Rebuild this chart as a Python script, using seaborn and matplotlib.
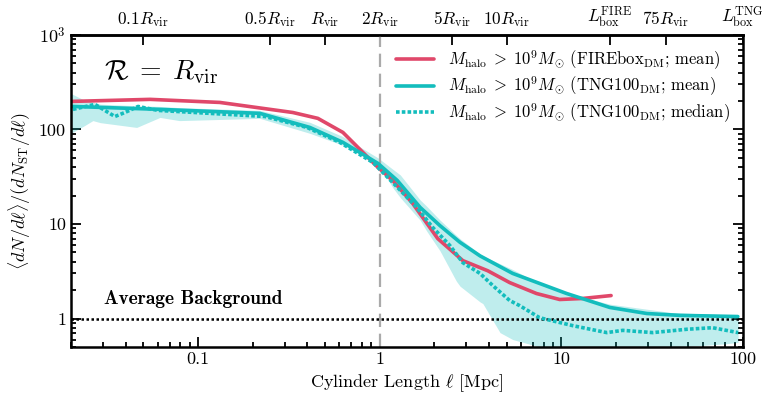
import numpy as np
import pandas as pd
import seaborn as sns
import matplotlib.pyplot as plt
import matplotlib.ticker as mticker

# Values (cylinder length in Mpc, ratio to background)
fire_len = [0.0205, 0.0545, 0.132, 0.333, 0.457, 0.628, 0.98, 1.18, 1.52, 2.09, 2.87,
            3.94, 5.2, 7.3, 9.8, 13.1, 18.8]
fire_mean = [198, 208, 193, 151, 131, 93, 39.6, 28.9, 16.5, 7.0, 4.1,
             3.2, 2.4, 1.84, 1.59, 1.63, 1.75]

tng_len = [0.0205, 0.0618, 0.219, 0.413, 0.628, 0.98, 1.25, 1.67, 2.15, 2.77, 3.57,
           5.4, 7.6, 10.7, 18.5, 29.6, 45, 93.7]
tng_mean = [175, 163, 148, 105, 73, 43.7, 28.9, 15.0, 9.6, 6.4, 4.6,
            3.0, 2.35, 1.84, 1.31, 1.13, 1.08, 1.05]

med_len = [0.0205, 0.0271, 0.0349, 0.0396, 0.0468, 0.0602, 0.234, 0.398, 0.604, 0.918,
           1.18, 1.60, 1.96, 2.44, 2.87, 3.57, 4.2, 5.2, 5.9, 7.6, 11.6, 17.8, 21.8,
           31.9, 49, 68, 94]
tng_median = [163, 184, 137, 151, 175, 159, 137, 105, 73, 44.8,
              27.5, 15.0, 9.2, 5.9, 3.9, 3.0, 2.23, 1.55, 1.37, 1.02, 0.84, 0.71, 0.75,
              0.71, 0.77, 0.80, 0.71]

band_len = [0.02, 0.0238, 0.0264, 0.029, 0.046, 0.0618, 0.079, 0.219, 0.413, 0.628, 0.98,
            1.18, 1.3, 1.67, 1.81, 2.15, 2.64, 2.77, 3.57, 3.7, 4.6, 5.4, 6.6, 7.6, 10.7,
            18.5, 40, 60, 80, 94]
band_hi = [240, 203, 195, 185, 178, 175, 170, 159, 119, 84, 50,
           38, 33, 18, 15.5, 11, 7.6, 7.0, 4.8, 4.6, 3.8, 3.3, 2.7, 2.4, 1.85,
           1.42, 1.16, 1.12, 1.1, 1.08]
band_lo = [91, 110, 124, 118, 105, 134, 124, 131, 91, 68, 44,
           24.3, 19, 11, 8.5, 5.2, 2.5, 2.2, 1.5, 1.44, 0.71, 0.6, 0.54, 0.5, 0.5,
           0.5, 0.5, 0.52, 0.54, 0.56]

top_pos = [0.05, 0.25, 0.5, 1.0, 2.5, 5.0, 18.5, 37.5, 99.5]
top_labels = [r'$0.1R_{\rm vir}$', r'$0.5R_{\rm vir}$', r'$R_{\rm vir}$', r'$2R_{\rm vir}$',
              r'$5R_{\rm vir}$', r'$10R_{\rm vir}$', r'$L_{\rm box}^{\rm FIRE}$',
              r'$75R_{\rm vir}$', r'$L_{\rm box}^{\rm TNG}$']

red = '#e0486a'
teal = '#13bdbd'

sns.set_style('ticks')
plt.rcParams['font.family'] = 'serif'
plt.rcParams['font.serif'] = ['cmr10', 'DejaVu Serif']
plt.rcParams['mathtext.fontset'] = 'cm'
plt.rcParams['axes.unicode_minus'] = False
plt.rcParams['axes.edgecolor'] = 'black'
plt.rcParams['xtick.color'] = 'black'
plt.rcParams['ytick.color'] = 'black'
plt.rcParams['text.color'] = 'black'
plt.rcParams['axes.labelcolor'] = 'black'

fig = plt.figure(figsize=(7.68, 4.08), dpi=100)
ax = fig.add_axes([0.0924, 0.1495, 0.875, 0.765])

ax.fill_between(band_len, band_lo, band_hi, color=teal, alpha=0.27, lw=0)

fire_df = pd.DataFrame({'length': fire_len, 'ratio': fire_mean})
tng_df = pd.DataFrame({'length': tng_len, 'ratio': tng_mean})
med_df = pd.DataFrame({'length': med_len, 'ratio': tng_median})

lab = r'$M_{\rm halo}\;>\;10^9 M_{\odot}$ '
sns.lineplot(data=fire_df, x='length', y='ratio', color=red, lw=2.6, ax=ax,
             label=lab + r'(FIREbox$_{\rm DM}$; mean)')
sns.lineplot(data=tng_df, x='length', y='ratio', color=teal, lw=2.6, ax=ax,
             label=lab + r'(TNG100$_{\rm DM}$; mean)')
sns.lineplot(data=med_df, x='length', y='ratio', color=teal, lw=2.6, ls=(0, (1, 0.6)), ax=ax,
             label=lab + r'(TNG100$_{\rm DM}$; median)')

ax.axvline(1.0, color='#aaaaaa', lw=1.6, ls=(0, (6, 3)), zorder=1)
ax.axhline(1.0, color='black', lw=1.8, ls=(0, (1, 1)), zorder=1)

ax.set_xscale('log')
ax.set_yscale('log')
ax.set_xlim(0.02, 100)
ax.set_ylim(0.5, 1000)

ax.xaxis.set_major_locator(mticker.FixedLocator([0.1, 1, 10, 100]))
ax.xaxis.set_major_formatter(mticker.FixedFormatter(['0.1', '1', '10', '100']))
ax.yaxis.set_major_locator(mticker.FixedLocator([1, 10, 100, 1000]))
ax.yaxis.set_major_formatter(mticker.FixedFormatter(['1', '10', '100', r'$10^3$']))
ax.xaxis.set_minor_locator(mticker.LogLocator(base=10, subs=np.arange(2, 10), numticks=20))
ax.yaxis.set_minor_locator(mticker.LogLocator(base=10, subs=np.arange(2, 10), numticks=20))
ax.xaxis.set_minor_formatter(mticker.NullFormatter())
ax.yaxis.set_minor_formatter(mticker.NullFormatter())

ax.tick_params(which='both', direction='in', right=True, top=False, labelsize=13, width=1.3)
ax.tick_params(which='major', length=7)
ax.tick_params(which='minor', length=3.5)
for s in ax.spines.values():
    s.set_linewidth(1.8)

top = ax.secondary_xaxis('top')
top.set_xticks(top_pos)
top.set_xticklabels(top_labels)
top.xaxis.set_minor_locator(mticker.NullLocator())
top.tick_params(direction='in', length=7, width=1.3, labelsize=12.5, pad=4)
top.spines['top'].set_linewidth(1.8)

ax.set_xlabel(r'Cylinder Length $\ell$ [Mpc]', fontsize=13)
ax.set_ylabel(r'$\langle dN/d\ell\rangle/(dN_{\rm ST}/d\ell)$', fontsize=13)

ax.text(0.0305, 400, r'$\mathcal{R}\;=\;R_{\rm vir}$', fontsize=20, va='center')
ax.text(0.0305, 1.3, 'Average Background', fontname='cmb10', fontsize=14, va='bottom')

ax.legend(loc='upper right', frameon=False, fontsize=12, handlelength=2.3,
          borderaxespad=0.4, labelspacing=0.18)

fig.savefig('out.png', dpi=100)
